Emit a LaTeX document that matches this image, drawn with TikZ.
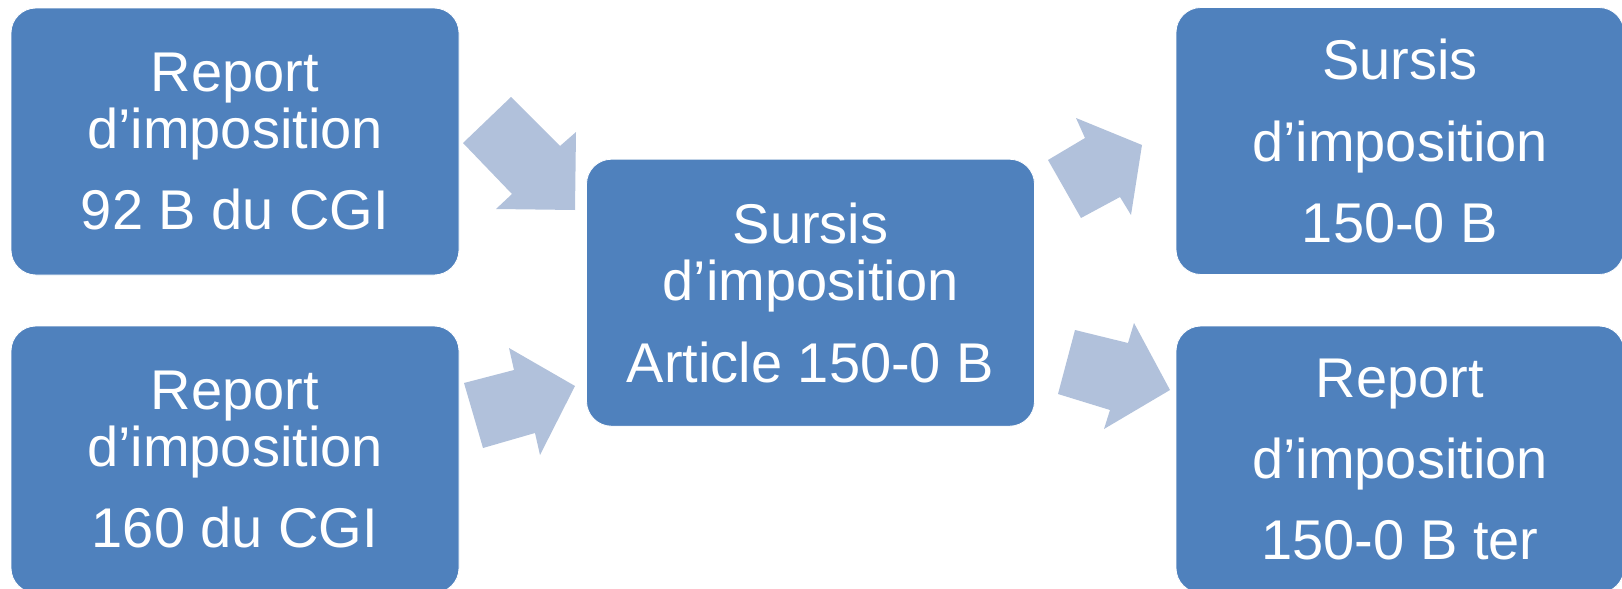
\documentclass[tikz,border=0pt]{standalone}
\usepackage{fontspec}
\setmainfont{Liberation Sans}
\definecolor{boxblue}{HTML}{4F81BD}
\definecolor{arrowblue}{HTML}{B1C1DB}
\begin{document}
\begin{tikzpicture}[x=0.75pt,y=-0.75pt,
  blockbox/.style={rectangle,rounded corners=18.75pt,fill=boxblue,draw=white,line width=0.6pt,
    minimum width=336pt,minimum height=200.25pt,inner sep=0pt,text=white,align=center,
    font=\fontsize{42}{43.1}\selectfont},
  blockarrow/.style={fill=arrowblue,draw=none}]
\useasboundingbox (0,0) rectangle (1622,589);
\node[blockbox] (tl) at (235,141.5) {Report\\d’imposition\\[18pt]92 B du CGI};
\node[blockbox] (bl) at (235,459.5) {Report\\d’imposition\\[18pt]160 du CGI};
\node[blockbox] (mid) at (810.5,292.7) {Sursis\\d’imposition\\[18pt]Article 150-0 B};
\node[blockbox] (tr) at (1400,141) {Sursis\\[18pt]d’imposition\\[18pt]150-0 B};
\node[blockbox] (br) at (1400,459.5) {Report\\[18pt]d’imposition\\[18pt]150-0 B ter};
% block arrows
\fill[blockarrow] (511,97) -- (560,146) -- (576,132) -- (575,210) -- (496,209) -- (512,194) -- (463,143) -- cycle;
\fill[blockarrow] (464,383) -- (514,370) -- (509,348) -- (575,386) -- (540,455) -- (535,433) -- (483,448) -- cycle;
\fill[blockarrow] (1048,160) -- (1085,138) -- (1076,118) -- (1142,145) -- (1131,215) -- (1120,197) -- (1081,218) -- cycle;
\fill[blockarrow] (1075,330) -- (1128,343) -- (1134,323) -- (1170,390) -- (1104,429) -- (1110,410) -- (1058,394) -- cycle;
\end{tikzpicture}
\end{document}
